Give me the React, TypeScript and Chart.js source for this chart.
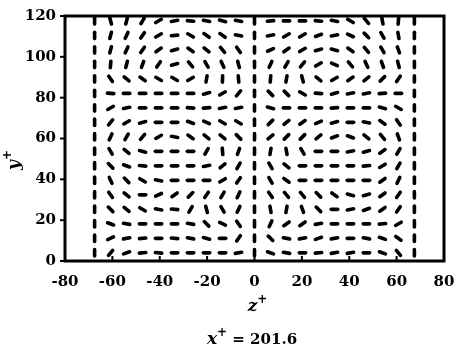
import React, { useEffect, useRef } from "react";
import { Chart, registerables } from "chart.js";

Chart.register(...registerables);

// grid columns (z+) and rows (y+, top to bottom)
const zCols = [-67.5, -60.75, -54, -47.25, -40.5, -33.75, -27, -20.25, -13.5, -6.75, 0, 6.75, 13.5, 20.25, 27, 33.75, 40.5, 47.25, 54, 60.75, 67.5];
const yRows = [117.6, 110.5, 103.4, 96.3, 89.2, 82.1, 75, 67.9, 60.8, 53.7, 46.6, 39.5, 32.4, 25.3, 18.2, 11.1, 4];

// direction of each segment, degrees (0 = horizontal, + = rising to the right), one list per row, top to bottom
const dirRows: number[][] = [
  [90, -75, 75, 60, 30, 10, -5, -10, -15, -10, 90, 5, 0, 0, -5, -10, -30, -50, -80, 85, 90],
  [90, 75, 65, 55, 30, 5, -30, -35, -35, -10, 90, 10, 30, 30, 20, 10, -25, -45, -60, -80, 90],
  [90, 75, 65, 55, 35, 15, -35, -40, -50, -55, 90, 25, 35, 30, 15, -15, -35, -50, -60, -70, 90],
  [90, 85, 75, 70, 55, 15, -50, -60, -65, -75, 90, 65, 60, 50, 30, -25, -50, -65, -70, -75, 90],
  [90, -55, -40, -35, -30, -30, 30, 80, 88, -85, 90, 85, 80, -75, -40, 30, 35, 40, 45, 55, 90],
  [90, -5, 0, 0, 0, 0, 0, 15, 30, 50, 90, -45, -45, -30, -5, 15, 10, 10, 5, 0, 90],
  [90, 30, 10, 0, 0, 0, -5, 5, 10, 10, 90, -15, 0, 0, 0, 5, 0, 0, -15, -30, 90],
  [90, 50, 30, 15, 0, 0, -20, -25, -30, -30, 90, 45, 40, 35, 25, 15, 0, -10, -35, -55, 90],
  [90, 65, 60, 50, 30, -10, -35, -40, -40, -45, 90, 40, 45, 45, 40, 20, -20, -40, -50, -70, 90],
  [90, -60, -40, -15, 0, 0, 0, 60, -85, 70, 90, 80, -80, -60, 0, 0, 10, 15, 35, 60, 90],
  [90, -45, -20, -5, 0, 0, 0, 10, 40, 60, 90, -60, -40, 0, 0, 0, 0, 5, 30, 60, 90],
  [90, -65, -45, -30, -10, 0, 0, 0, 30, 55, 90, -60, -35, 0, 0, 0, 0, 0, 35, 65, 90],
  [90, -55, -40, 0, 25, 35, 45, 55, 60, 65, 90, -55, -50, -50, -45, -35, -15, 15, 35, 55, 90],
  [90, -45, -40, -30, -10, -5, 60, -75, -60, 65, 90, -80, 80, -70, -45, 0, 10, 20, 35, 55, 90],
  [90, -20, -10, 0, 0, 0, -10, -45, -25, -55, 90, 65, 35, 35, 10, 0, 0, 0, 5, 30, 90],
  [90, 25, 10, 5, 0, -5, -10, -15, 0, 55, 90, -45, -10, 10, 20, 10, 0, -10, -20, -35, 90],
  [90, 50, 20, 5, -5, 0, 0, 0, 0, 10, 90, -20, -10, 0, 5, 10, 10, 0, -20, -50, 90],
];

const xTicks = [-80, -60, -40, -20, 0, 20, 40, 60, 80];
const yTicks = [0, 20, 40, 60, 80, 100, 120];

const xTitle = "z";
const yTitle = "y";
const caption = { variable: "x", rest: " = 201.6" };

const SERIF = '"DejaVu Serif", serif';

function drawParts(ctx: CanvasRenderingContext2D, parts: { t: string; f: string; dy: number }[], cx: number, cy: number) {
  let total = 0;
  for (const p of parts) { ctx.font = p.f; total += ctx.measureText(p.t).width; }
  let x = cx - total / 2;
  ctx.textAlign = "left";
  ctx.textBaseline = "alphabetic";
  for (const p of parts) {
    ctx.font = p.f;
    ctx.fillText(p.t, x, cy + p.dy);
    x += ctx.measureText(p.t).width;
  }
}

const framePlugin = {
  id: "frameAndTitles",
  beforeDatasetsDraw(chart: any) {
    chart.ctx.save();
    chart.ctx.lineCap = "round";
  },
  afterDatasetsDraw(chart: any) {
    chart.ctx.restore();
  },
  afterDraw(chart: any) {
    const { ctx, chartArea: a, scales } = chart;
    ctx.save();
    ctx.strokeStyle = "#000";
    ctx.fillStyle = "#000";
    ctx.lineWidth = 3;
    ctx.strokeRect(a.left, a.top, a.right - a.left, a.bottom - a.top);
    ctx.lineWidth = 2;
    for (const v of xTicks) {
      const px = scales.x.getPixelForValue(v);
      ctx.beginPath(); ctx.moveTo(px, a.bottom); ctx.lineTo(px, a.bottom - 5); ctx.stroke();
    }
    for (const v of yTicks) {
      const py = scales.y.getPixelForValue(v);
      ctx.beginPath(); ctx.moveTo(a.left, py); ctx.lineTo(a.left - 5, py); ctx.stroke();
    }
    const it = `italic bold 17px ${SERIF}`;
    const sup = `bold 12px ${SERIF}`;
    const bd = `bold 15px ${SERIF}`;
    // x-axis title
    drawParts(ctx, [{ t: xTitle, f: it, dy: 0 }, { t: "+", f: sup, dy: -8 }], (a.left + a.right) / 2 + 3, 311);
    // caption
    drawParts(ctx, [{ t: caption.variable, f: it, dy: 0 }, { t: "+", f: sup, dy: -8 }, { t: caption.rest, f: bd, dy: 0 }], 252, 344);
    // y-axis title
    ctx.translate(19, 160);
    ctx.rotate(-Math.PI / 2);
    drawParts(ctx, [{ t: yTitle, f: it, dy: 0 }, { t: "+", f: sup, dy: -8 }], 0, 0);
    ctx.restore();
  },
};

export default function App() {
  const ref = useRef<HTMLCanvasElement>(null);
  useEffect(() => {
    document.body.style.margin = "0";
    const points: { x: number; y: number }[] = [];
    const rotations: number[] = [];
    yRows.forEach((y, r) => {
      zCols.forEach((x, c) => {
        points.push({ x, y });
        rotations.push(-dirRows[r][c]);
      });
    });
    const chart = new Chart(ref.current!, {
      type: "scatter",
      data: {
        datasets: [
          {
            data: points,
            pointStyle: "line",
            pointRadius: 3.2,
            pointBorderWidth: 3.6,
            pointRotation: rotations,
            borderColor: "#000",
            backgroundColor: "#000",
          } as any,
        ],
      },
      options: {
        animation: false,
        responsive: false,
        events: [],
        layout: { padding: { top: 16, right: 12, left: 0, bottom: 0 } },
        plugins: { legend: { display: false }, tooltip: { enabled: false }, title: { display: false } },
        scales: {
          x: {
            type: "linear",
            min: -80,
            max: 80,
            afterBuildTicks: (s: any) => { s.ticks = xTicks.map((v) => ({ value: v })); },
            afterFit: (s: any) => { s.height = 92; s.paddingLeft = 0; s.paddingRight = 0; },
            grid: { display: false, drawTicks: false },
            border: { display: false },
            ticks: { color: "#000", padding: 12, font: { family: SERIF, size: 15, weight: "bold" } },
          },
          y: {
            type: "linear",
            min: 0,
            max: 120,
            afterBuildTicks: (s: any) => { s.ticks = yTicks.map((v) => ({ value: v })); },
            afterFit: (s: any) => { s.width = 65; s.paddingTop = 0; s.paddingBottom = 0; },
            grid: { display: false, drawTicks: false },
            border: { display: false },
            ticks: { color: "#000", padding: 9, font: { family: SERIF, size: 15, weight: "bold" } },
          },
        },
      },
      plugins: [framePlugin],
    });
    return () => chart.destroy();
  }, []);
  return (
    <div style={{ width: 456, height: 353, position: "absolute", left: 0, top: 0, background: "#fff" }}>
      <canvas ref={ref} width={456} height={353} style={{ width: 456, height: 353 }} />
    </div>
  );
}
